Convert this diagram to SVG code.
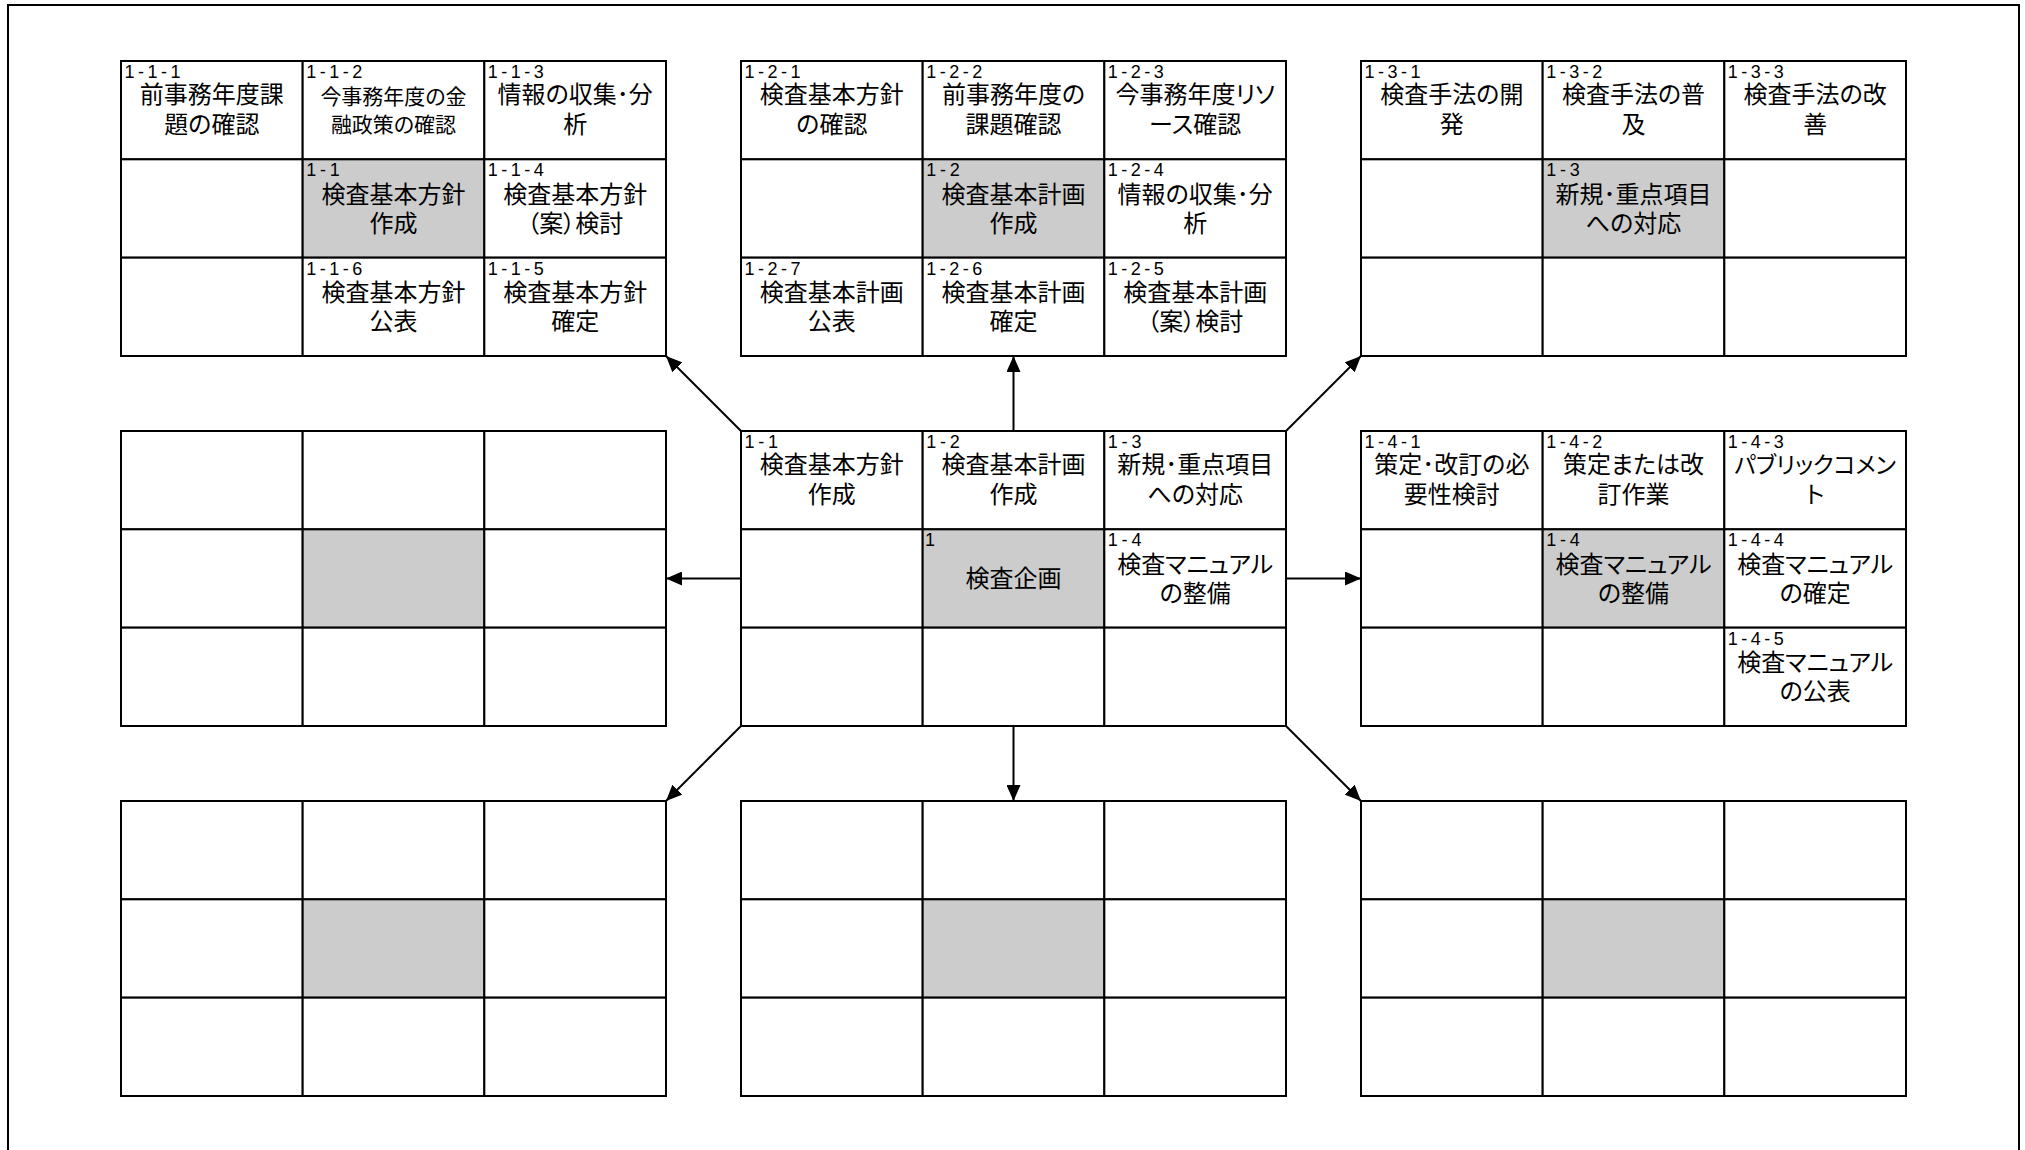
<svg xmlns="http://www.w3.org/2000/svg" width="2025" height="1150" viewBox="0 0 2025 1150">
<style>
.c{fill:#fff;stroke:#000;stroke-width:2}
.g{fill:#ccc;stroke:#000;stroke-width:2}
.n{font-family:"Liberation Sans",Arial,sans-serif;font-size:18px;fill:#000}
.t{font-family:"Noto Sans CJK JP","Noto Sans CJK SC",sans-serif;font-size:24px;text-anchor:middle;fill:#000;font-feature-settings:"palt" 1}
.s21{font-size:21px}
.a{stroke:#000;stroke-width:2;fill:none;marker-end:url(#ah)}
</style>
<defs>
<marker id="ah" markerUnits="userSpaceOnUse" markerWidth="17" markerHeight="14" refX="16" refY="7" orient="auto">
<path d="M0,0 L16,7 L0,14 z" fill="#000"/>
</marker>
<g id="cells">
<rect class="c" x="0" y="0" width="181.67" height="98.33"/>
<rect class="c" x="181.67" y="0" width="181.67" height="98.33"/>
<rect class="c" x="363.33" y="0" width="181.67" height="98.33"/>
<rect class="c" x="0" y="98.33" width="181.67" height="98.33"/>
<rect class="g" x="181.67" y="98.33" width="181.67" height="98.33"/>
<rect class="c" x="363.33" y="98.33" width="181.67" height="98.33"/>
<rect class="c" x="0" y="196.67" width="181.67" height="98.33"/>
<rect class="c" x="181.67" y="196.67" width="181.67" height="98.33"/>
<rect class="c" x="363.33" y="196.67" width="181.67" height="98.33"/>
</g>
</defs>
<rect x="8" y="5" width="2011" height="1200" fill="none" stroke="#000" stroke-width="2"/>

<g id="connectors">
<line class="a" x1="741" y1="431" x2="666" y2="356"/>
<line class="a" x1="1013.5" y1="431" x2="1013.5" y2="356"/>
<line class="a" x1="1286" y1="431" x2="1361" y2="356"/>
<line class="a" x1="741" y1="578.5" x2="666" y2="578.5"/>
<line class="a" x1="1286" y1="578.5" x2="1361" y2="578.5"/>
<line class="a" x1="741" y1="726" x2="666" y2="801"/>
<line class="a" x1="1013.5" y1="726" x2="1013.5" y2="801"/>
<line class="a" x1="1286" y1="726" x2="1361" y2="801"/>
</g>

<g id="grid-1-1">
<use href="#cells" x="121" y="61"/>
<g id="n-1-1-1"><text class="n" x="124.5" y="78" textLength="56">1-1-1</text>
<text class="t" x="211.83" y="103.2">前事務年度課<tspan x="211.83" dy="29.5">題の確認</tspan></text></g>
<g id="n-1-1-2"><text class="n" x="306.2" y="78" textLength="56">1-1-2</text>
<text class="t s21" x="393.5" y="104">今事務年度の金<tspan x="393.5" dy="27.5">融政策の確認</tspan></text></g>
<g id="n-1-1-3"><text class="n" x="487.8" y="78" textLength="56">1-1-3</text>
<text class="t" x="575.17" y="103.2">情報の収集･分<tspan x="575.17" dy="29.5">析</tspan></text></g>
<g id="n-1-1"><text class="n" x="306.2" y="176.3" textLength="33.6">1-1</text>
<text class="t" x="393.5" y="202.5">検査基本方針<tspan x="393.5" dy="29">作成</tspan></text></g>
<g id="n-1-1-4"><text class="n" x="487.8" y="176.3" textLength="56">1-1-4</text>
<text class="t" x="575.17" y="202.5">検査基本方針<tspan x="575.17" dy="29">（案）検討</tspan></text></g>
<g id="n-1-1-6"><text class="n" x="306.2" y="274.7" textLength="56">1-1-6</text>
<text class="t" x="393.5" y="300.8">検査基本方針<tspan x="393.5" dy="29">公表</tspan></text></g>
<g id="n-1-1-5"><text class="n" x="487.8" y="274.7" textLength="56">1-1-5</text>
<text class="t" x="575.17" y="300.8">検査基本方針<tspan x="575.17" dy="29">確定</tspan></text></g>
</g>

<g id="grid-1-2">
<use href="#cells" x="741" y="61"/>
<g id="n-1-2-1"><text class="n" x="744.5" y="78" textLength="56">1-2-1</text>
<text class="t" x="831.83" y="103.2">検査基本方針<tspan x="831.83" dy="29.5">の確認</tspan></text></g>
<g id="n-1-2-2"><text class="n" x="926.2" y="78" textLength="56">1-2-2</text>
<text class="t" x="1013.5" y="103.2">前事務年度の<tspan x="1013.5" dy="29.5">課題確認</tspan></text></g>
<g id="n-1-2-3"><text class="n" x="1107.8" y="78" textLength="56">1-2-3</text>
<text class="t" x="1195.17" y="103.2">今事務年度リソ<tspan x="1195.17" dy="29.5">ース確認</tspan></text></g>
<g id="n-1-2"><text class="n" x="926.2" y="176.3" textLength="33.6">1-2</text>
<text class="t" x="1013.5" y="202.5">検査基本計画<tspan x="1013.5" dy="29">作成</tspan></text></g>
<g id="n-1-2-4"><text class="n" x="1107.8" y="176.3" textLength="56">1-2-4</text>
<text class="t" x="1195.17" y="202.5">情報の収集･分<tspan x="1195.17" dy="29">析</tspan></text></g>
<g id="n-1-2-7"><text class="n" x="744.5" y="274.7" textLength="56">1-2-7</text>
<text class="t" x="831.83" y="300.8">検査基本計画<tspan x="831.83" dy="29">公表</tspan></text></g>
<g id="n-1-2-6"><text class="n" x="926.2" y="274.7" textLength="56">1-2-6</text>
<text class="t" x="1013.5" y="300.8">検査基本計画<tspan x="1013.5" dy="29">確定</tspan></text></g>
<g id="n-1-2-5"><text class="n" x="1107.8" y="274.7" textLength="56">1-2-5</text>
<text class="t" x="1195.17" y="300.8">検査基本計画<tspan x="1195.17" dy="29">（案）検討</tspan></text></g>
</g>

<g id="grid-1-3">
<use href="#cells" x="1361" y="61"/>
<g id="n-1-3-1"><text class="n" x="1364.5" y="78" textLength="56">1-3-1</text>
<text class="t" x="1451.83" y="103.2">検査手法の開<tspan x="1451.83" dy="29.5">発</tspan></text></g>
<g id="n-1-3-2"><text class="n" x="1546.2" y="78" textLength="56">1-3-2</text>
<text class="t" x="1633.5" y="103.2">検査手法の普<tspan x="1633.5" dy="29.5">及</tspan></text></g>
<g id="n-1-3-3"><text class="n" x="1727.8" y="78" textLength="56">1-3-3</text>
<text class="t" x="1815.17" y="103.2">検査手法の改<tspan x="1815.17" dy="29.5">善</tspan></text></g>
<g id="n-1-3"><text class="n" x="1546.2" y="176.3" textLength="33.6">1-3</text>
<text class="t" x="1633.5" y="202.5">新規･重点項目<tspan x="1633.5" dy="29">への対応</tspan></text></g>
</g>

<g id="grid-left"><use href="#cells" x="121" y="431"/></g>

<g id="grid-1">
<use href="#cells" x="741" y="431"/>
<g id="c-1-1"><text class="n" x="744.5" y="448" textLength="33.6">1-1</text>
<text class="t" x="831.83" y="473.2">検査基本方針<tspan x="831.83" dy="29.5">作成</tspan></text></g>
<g id="c-1-2"><text class="n" x="926.2" y="448" textLength="33.6">1-2</text>
<text class="t" x="1013.5" y="473.2">検査基本計画<tspan x="1013.5" dy="29.5">作成</tspan></text></g>
<g id="c-1-3"><text class="n" x="1107.8" y="448" textLength="33.6">1-3</text>
<text class="t" x="1195.17" y="473.2">新規･重点項目<tspan x="1195.17" dy="29.5">への対応</tspan></text></g>
<g id="c-1"><text class="n" x="925" y="546.3">1</text>
<text class="t" x="1013.5" y="587">検査企画</text></g>
<g id="c-1-4"><text class="n" x="1107.8" y="546.3" textLength="33.6">1-4</text>
<text class="t" x="1195.17" y="572.5">検査マニュアル<tspan x="1195.17" dy="29">の整備</tspan></text></g>
</g>

<g id="grid-1-4">
<use href="#cells" x="1361" y="431"/>
<g id="n-1-4-1"><text class="n" x="1364.5" y="448" textLength="56">1-4-1</text>
<text class="t" x="1451.83" y="473.2">策定･改訂の必<tspan x="1451.83" dy="29.5">要性検討</tspan></text></g>
<g id="n-1-4-2"><text class="n" x="1546.2" y="448" textLength="56">1-4-2</text>
<text class="t" x="1633.5" y="473.2">策定または改<tspan x="1633.5" dy="29.5">訂作業</tspan></text></g>
<g id="n-1-4-3"><text class="n" x="1727.8" y="448" textLength="56">1-4-3</text>
<text class="t" x="1815.17" y="473.2" style="font-size:23px">パブリックコメン<tspan x="1815.17" dy="29.5" style="font-size:24px">ト</tspan></text></g>
<g id="n-1-4"><text class="n" x="1546.2" y="546.3" textLength="33.6">1-4</text>
<text class="t" x="1633.5" y="572.5">検査マニュアル<tspan x="1633.5" dy="29">の整備</tspan></text></g>
<g id="n-1-4-4"><text class="n" x="1727.8" y="546.3" textLength="56">1-4-4</text>
<text class="t" x="1815.17" y="572.5">検査マニュアル<tspan x="1815.17" dy="29">の確定</tspan></text></g>
<g id="n-1-4-5"><text class="n" x="1727.8" y="644.7" textLength="56">1-4-5</text>
<text class="t" x="1815.17" y="670.8">検査マニュアル<tspan x="1815.17" dy="29">の公表</tspan></text></g>
</g>

<g id="grid-bottom-left"><use href="#cells" x="121" y="801"/></g>
<g id="grid-bottom-center"><use href="#cells" x="741" y="801"/></g>
<g id="grid-bottom-right"><use href="#cells" x="1361" y="801"/></g>
</svg>
